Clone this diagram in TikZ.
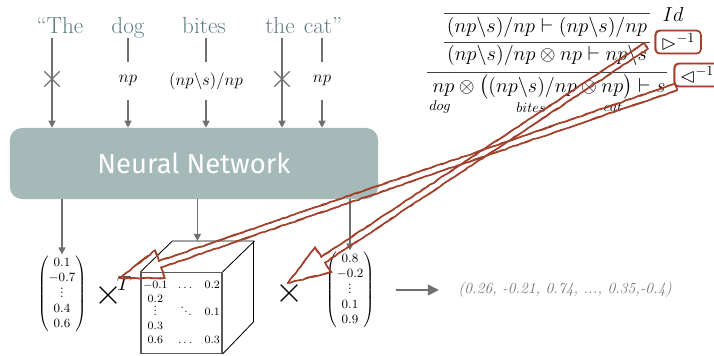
\documentclass[tikz,border=0pt]{standalone}
\usepackage{amsmath,amssymb}
\usepackage{fontspec}
\newfontfamily\nnfont{Fira Sans}
\usepackage{tikz}
\usetikzlibrary{positioning, arrows.meta, calc, shapes.misc, decorations.pathmorphing}
\definecolor{wordtxt}{HTML}{5f7d7f}
\definecolor{nnfill}{HTML}{a6b9b9}
\definecolor{arrowgray}{HTML}{707070}
\definecolor{sketchred}{HTML}{a2412b}
\definecolor{resgray}{HTML}{727272}
\newcommand{\smallvdots}{\vbox{\baselineskip=2.8pt \lineskiplimit=0pt \hbox{.}\hbox{.}\hbox{.}}}
\newcommand{\smallddots}{\mathinner{\raise5pt\hbox{.}\mkern1mu\raise2.5pt\hbox{.}\mkern1mu\hbox{.}}}
\newcommand{\outlinearrow}[2]{%
  \coordinate (hb) at ($(#2)!30pt!(#1)$);
  \foreach \k in {1,2}
    {\draw[sketch] ($(#1)!2.4pt!90:(#2)$) -- ($(hb)!2.4pt!90:(#2)$) -- ($(hb)!10.5pt!90:(#2)$) -- (#2)
       -- ($(hb)!10.5pt!-90:(#2)$) -- ($(hb)!2.4pt!-90:(#2)$) -- ($(#1)!2.4pt!-90:(#2)$) -- cycle;}}

\begin{document}
\begin{tikzpicture}[x=0.025cm, y=-0.025cm,
 word/.style={text=wordtxt, font=\fontsize{16.5}{19}\selectfont, inner sep=1pt, text depth=0.22em, anchor=base},
 tlabel/.style={minimum height=27pt, inner sep=0pt, font=\fontsize{12}{14}\selectfont},
 gline/.style={draw=arrowgray, line width=1pt},
 garrow/.style={gline, -{Triangle[length=5pt,width=5pt]}},
 crossmark/.style={cross out, draw, minimum size=#1, inner sep=0pt, line width=0.9pt},
 nnbox/.style={fill=nnfill, rounded corners=8.5pt, minimum width=261.8pt, minimum height=50.5pt,
   text=white, font=\nnfont\fontsize{19.5}{22}\selectfont},
 vec/.style={font=\fontsize{9}{10.8}\selectfont, inner sep=1pt},
 cubeface/.style={draw=black!65, line width=0.8pt, minimum size=57.6pt, inner sep=0pt, font=\fontsize{8}{9.7}\selectfont},
 cubeedge/.style={draw=black, line width=0.6pt},
 proof/.style={inner sep=0pt, font=\fontsize{14.4}{17}\selectfont},
 prule/.style={draw=black!75, line width=0.7pt},
 redlabel/.style={font=\fontsize{14.4}{17}\selectfont, inner sep=2pt, minimum width=32pt, minimum height=16pt},
 sketch/.style={draw=sketchred, line width=1pt, decorate,
   decoration={random steps, segment length=3pt, amplitude=0.4pt}},
 sketchbox/.style={draw=sketchred, line width=1.1pt, rounded corners=3pt},
 restext/.style={text=resgray, font=\itshape\fontsize{11}{12}\selectfont, anchor=west, inner sep=0pt}]
\useasboundingbox (0,0) rectangle (714,355);

% sentence
\node[word] (w1) at (60,33) {“The};
\node[word] (w2) at (128,33) {dog};
\node[word] (w3) at (204,33) {bites};
\node[word] (w4) at (280,33) {the};
\node[word] (w5) at (323,33) {cat”};

\node[nnbox] (nn) at (194,163.5) {Neural Network};

% types
\node[crossmark=10pt, draw=arrowgray] (x1) at (52,79) {};
\node[tlabel] (t2) at (128,81) {$np$};
\node[tlabel] (t3) at (206,81) {$(np\backslash s)/np$};
\node[crossmark=10pt, draw=arrowgray] (x4) at (282,79) {};
\node[tlabel] (t5) at (322,81) {$np$};

\draw[garrow] (w1.south -| x1) -- (x1 |- nn.north);
\draw[garrow] (w4.south -| x4) -- (x4 |- nn.north);
\foreach \w/\t in {w2/t2,w3/t3,w5/t5}
  {\draw[gline] (\w.south -| \t) -- (\t);
   \draw[garrow] (\t) -- (\t |- nn.north);}

% outputs
\node[vec] (v1) at (62,294) {$\begin{pmatrix}0.1\\-0.7\\\smallvdots\\0.4\\0.6\end{pmatrix}$};
\node[crossmark=11pt, draw=black] (m1) at (108,295) {};
\node[font=\fontsize{14}{16}\selectfont, inner sep=0pt] (tr) at (124,284) {$T$};

\node[cubeface] (cube) at (181.5,313) {$\begin{array}{@{}c@{\hspace{7.5pt}}c@{\hspace{7.5pt}}c@{}}
  -0.1 & \dots & 0.2\\ 0.2 & & \\ \smallvdots & \smallddots & 0.1\\ 0.3 & & \\ 0.6 & \dots & 0.3\end{array}$};
\draw[cubeedge] (cube.north west) -- ++(32,-31) -- ++(81,0) -- ++(0,81) -- (cube.south east);
\draw[cubeedge] (cube.north east) -- ++(32,-31);
\coordinate (cubetop) at ($(cube.north west)+(57,-31)$);

\node[crossmark=11pt, draw=black] (m2) at (289,293) {};
\node[vec] (v2) at (350,290) {$\begin{pmatrix}0.8\\-0.2\\\smallvdots\\0.1\\0.9\end{pmatrix}$};
\node[restext] (res) at (458,290) {(0.26, -0.21, 0.74, ..., 0.35,-0.4)};

\draw[garrow] (nn.south -| v1) -- (v1);
\draw[garrow] (nn.south -| cubetop) -- (cubetop);
\draw[garrow] (nn.south -| v2) -- (v2);
\draw[arrowgray, line width=2pt, -{Triangle[length=8pt,width=7.5pt]}]
  ($(v2.east)+(20,0)$) -- ($(res.west)+(-19,0)$);

% derivation
\node[proof] (p1) at (547,27) {$(np\backslash s)/np \vdash (np\backslash s)/np$};
\node[proof] (p2) at (547,55) {$(np\backslash s)/np \otimes np \vdash np\backslash s$};
\node[proof] (p3) at (549,87) {$np \otimes \big((np\backslash s)/np \otimes np\big) \vdash s$};
\draw[prule] (444,13) -- (650,13);
\draw[prule] (444,42) -- (650,42);
\draw[prule] (427,72) -- (667,72);
\node[proof] (id) at (673,14) {$Id$};
\node[font=\fontsize{10}{12}\selectfont, inner sep=0pt] (ldog) at (440,107) {$dog$};
\node[font=\fontsize{10}{12}\selectfont, inner sep=0pt] (lbites) at (531,108) {$bites$};
\node[font=\fontsize{10}{12}\selectfont, inner sep=0pt] (lcat) at (613,107) {$cat$};

\node[redlabel] (rinv) at (678,42) {$\rhd^{-1}$};
\node[redlabel] (linv) at (697,75) {$\lhd^{-1}$};

% sketched marks
\foreach \n in {rinv,linv}
  {\draw[sketchbox] (\n.south west) rectangle (\n.north east);
   \draw[sketchbox, line width=0.6pt] ([shift={(0.5pt,0.4pt)}]\n.south west) rectangle ([shift={(0.4pt,-0.5pt)}]\n.north east);}
\coordinate (a1s) at (646,46);
\coordinate (a1t) at (288,283);
\coordinate (a2s) at (676,87);
\coordinate (a2t) at (120,278);
\outlinearrow{a1s}{a1t}
\outlinearrow{a2s}{a2t}

\end{tikzpicture}
\end{document}
